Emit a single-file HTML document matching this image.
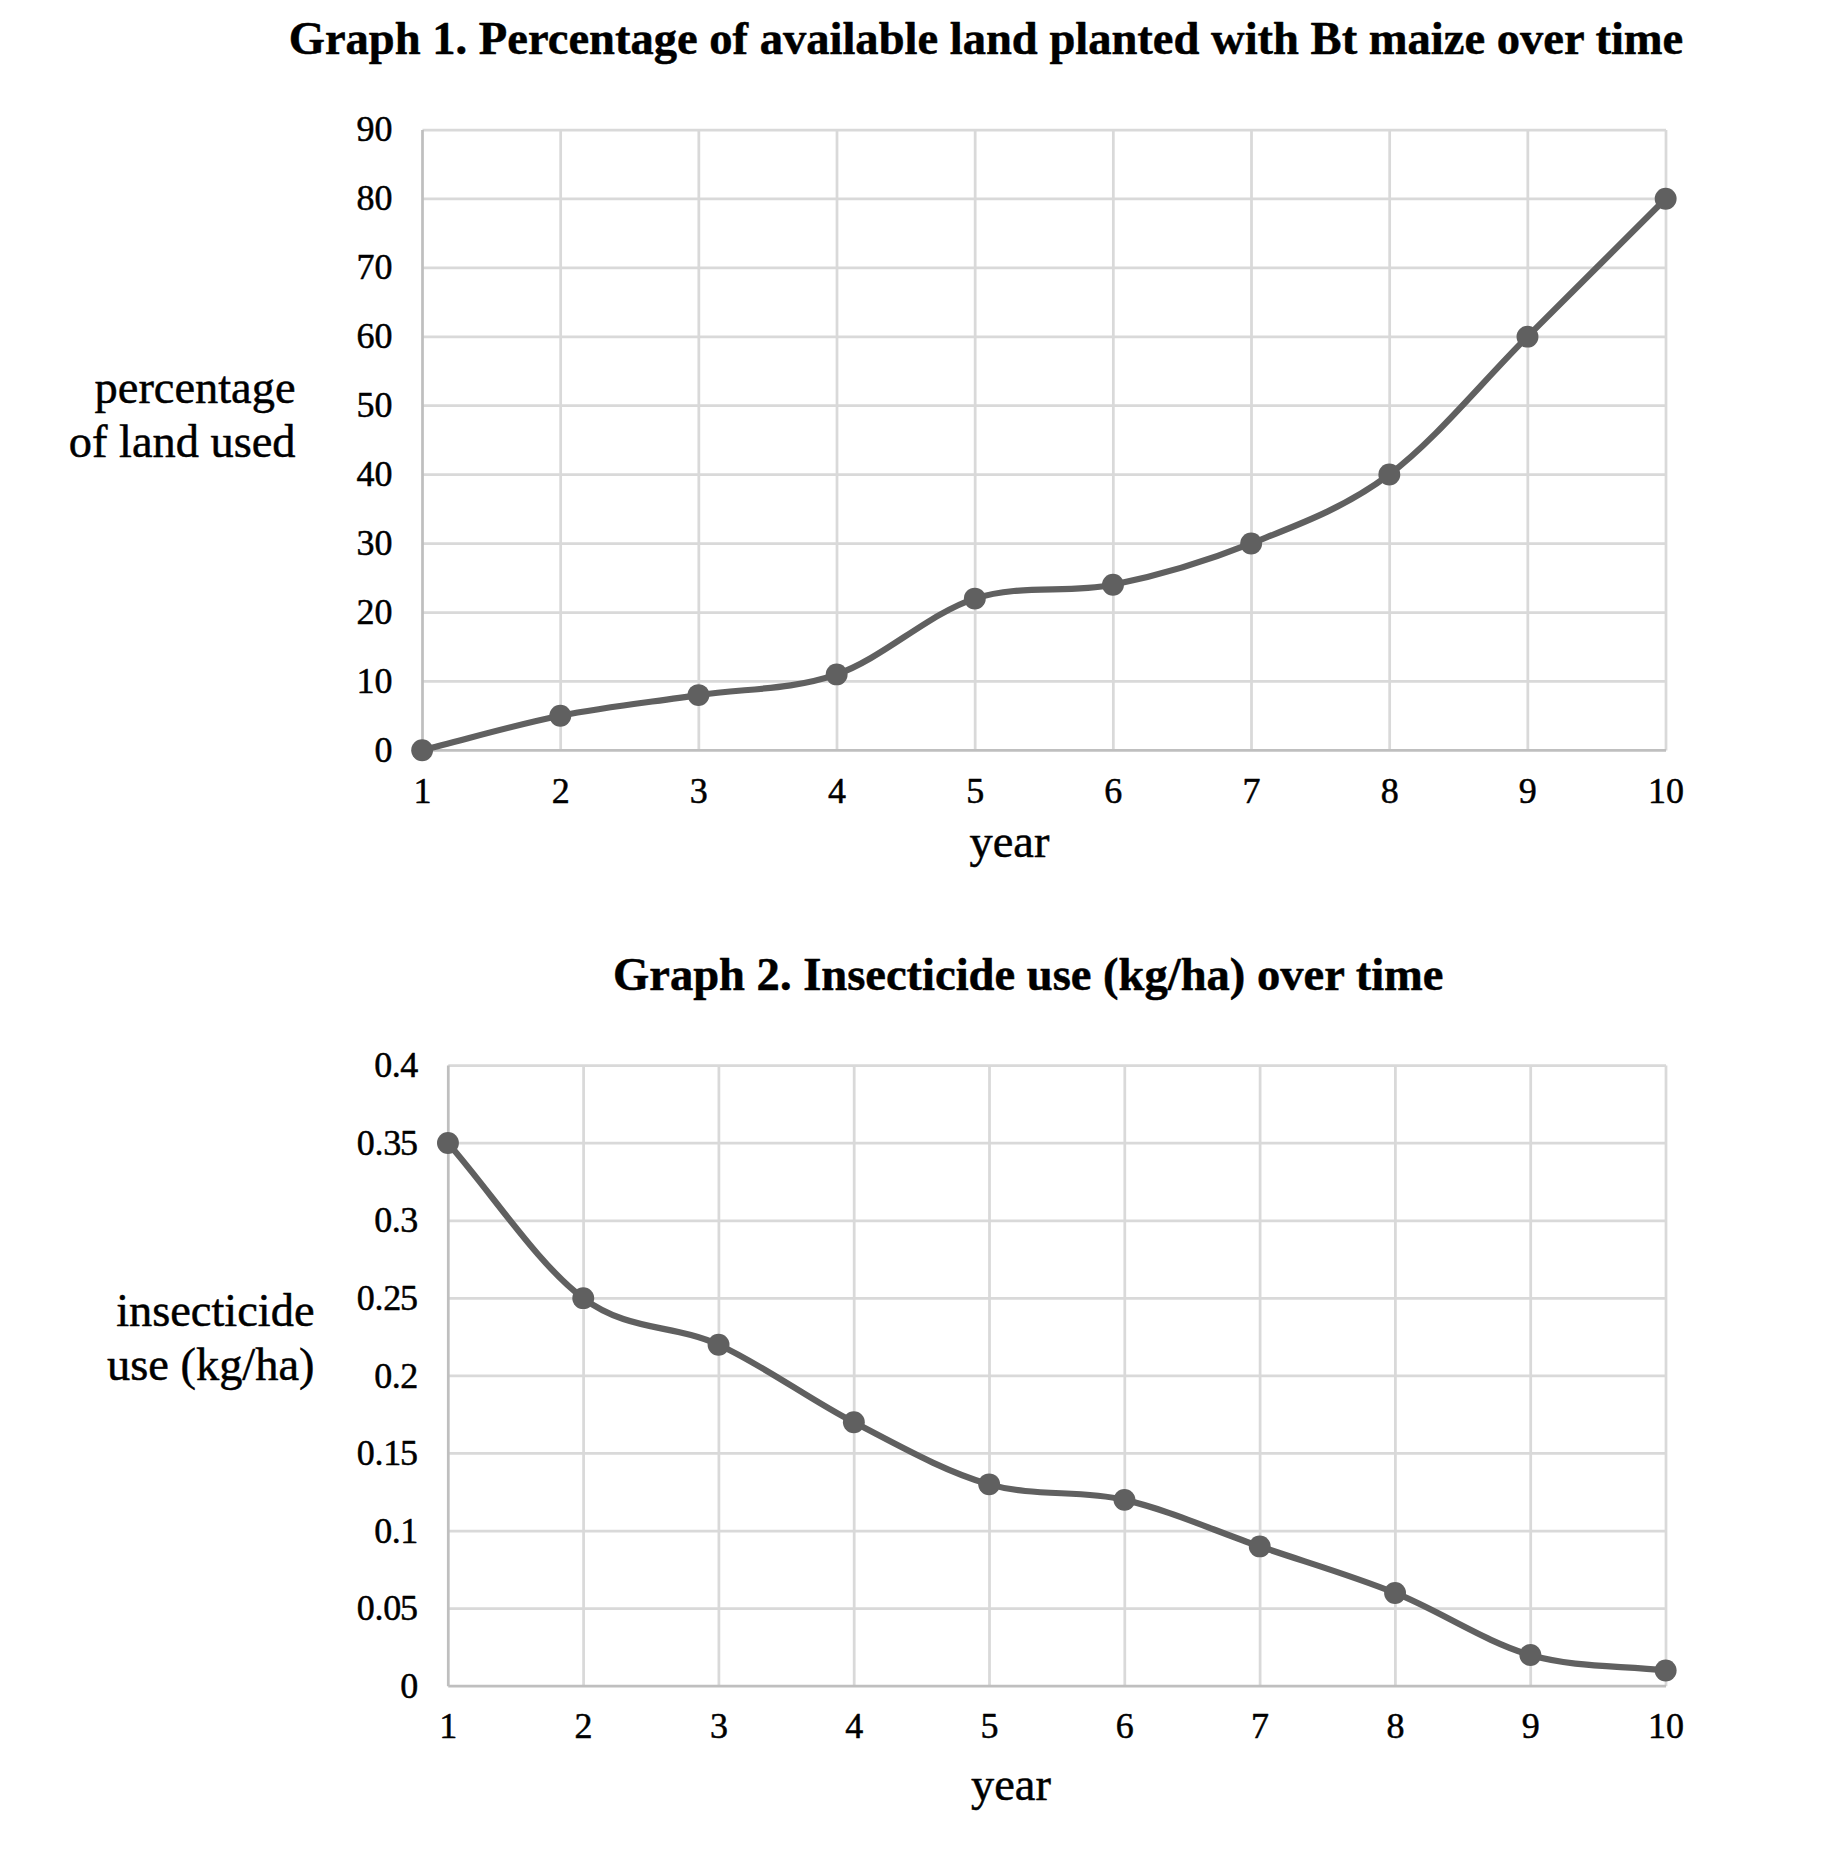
<!DOCTYPE html>
<html lang="en"><head><meta charset="utf-8"><title>Graphs</title>
<style>
html,body{margin:0;padding:0;background:#fff;}
body{width:1848px;height:1856px;overflow:hidden;}
svg{display:block;font-family:"Liberation Serif","Times New Roman",serif;fill:#000;}
text{stroke:#000;stroke-width:0.5px;stroke-linejoin:round;}
.tick{font-size:36px;stroke-width:0.35px;}
.title{font-size:46.55px;font-weight:bold;}
.axl{font-size:46.4px;}
</style></head><body>
<svg width="1848" height="1856" viewBox="0 0 1848 1856">
<rect width="1848" height="1856" fill="#ffffff"/>
<g id="chart1">
<line x1="422.5" y1="130" x2="1666" y2="130" stroke="#d9d9d9" stroke-width="2.75"/>
<line x1="422.5" y1="198.93" x2="1666" y2="198.93" stroke="#d9d9d9" stroke-width="2.75"/>
<line x1="422.5" y1="267.87" x2="1666" y2="267.87" stroke="#d9d9d9" stroke-width="2.75"/>
<line x1="422.5" y1="336.8" x2="1666" y2="336.8" stroke="#d9d9d9" stroke-width="2.75"/>
<line x1="422.5" y1="405.73" x2="1666" y2="405.73" stroke="#d9d9d9" stroke-width="2.75"/>
<line x1="422.5" y1="474.67" x2="1666" y2="474.67" stroke="#d9d9d9" stroke-width="2.75"/>
<line x1="422.5" y1="543.6" x2="1666" y2="543.6" stroke="#d9d9d9" stroke-width="2.75"/>
<line x1="422.5" y1="612.53" x2="1666" y2="612.53" stroke="#d9d9d9" stroke-width="2.75"/>
<line x1="422.5" y1="681.47" x2="1666" y2="681.47" stroke="#d9d9d9" stroke-width="2.75"/>
<line x1="560.67" y1="130" x2="560.67" y2="750.4" stroke="#d9d9d9" stroke-width="2.75"/>
<line x1="698.83" y1="130" x2="698.83" y2="750.4" stroke="#d9d9d9" stroke-width="2.75"/>
<line x1="837" y1="130" x2="837" y2="750.4" stroke="#d9d9d9" stroke-width="2.75"/>
<line x1="975.17" y1="130" x2="975.17" y2="750.4" stroke="#d9d9d9" stroke-width="2.75"/>
<line x1="1113.33" y1="130" x2="1113.33" y2="750.4" stroke="#d9d9d9" stroke-width="2.75"/>
<line x1="1251.5" y1="130" x2="1251.5" y2="750.4" stroke="#d9d9d9" stroke-width="2.75"/>
<line x1="1389.67" y1="130" x2="1389.67" y2="750.4" stroke="#d9d9d9" stroke-width="2.75"/>
<line x1="1527.83" y1="130" x2="1527.83" y2="750.4" stroke="#d9d9d9" stroke-width="2.75"/>
<line x1="1666" y1="130" x2="1666" y2="750.4" stroke="#d9d9d9" stroke-width="2.75"/>
<line x1="422.5" y1="130" x2="422.5" y2="750.4" stroke="#bfbfbf" stroke-width="2.75"/>
<line x1="422.5" y1="750.4" x2="1666" y2="750.4" stroke="#bfbfbf" stroke-width="2.75"/>
<path d="M422.15,750.25 C468.21,738.76 514.26,724.97 560.32,715.78 C606.37,706.59 652.43,702 698.48,695.1 C744.54,688.21 790.59,690.51 836.65,674.42 C882.71,658.34 928.76,613.53 974.82,598.6 C1020.87,583.66 1066.93,594 1112.98,584.81 C1159.04,575.62 1205.09,561.83 1251.15,543.45 C1297.21,525.07 1343.26,508.98 1389.32,474.52 C1435.37,440.05 1481.43,382.61 1527.48,336.65 C1573.54,290.69 1619.59,244.74 1665.65,198.78" fill="none" stroke="#606060" stroke-width="6.2" stroke-linecap="round" stroke-linejoin="round"/>
<circle cx="422.15" cy="750.25" r="10.95" fill="#606060"/>
<circle cx="560.32" cy="715.78" r="10.95" fill="#606060"/>
<circle cx="698.48" cy="695.1" r="10.95" fill="#606060"/>
<circle cx="836.65" cy="674.42" r="10.95" fill="#606060"/>
<circle cx="974.82" cy="598.6" r="10.95" fill="#606060"/>
<circle cx="1112.98" cy="584.81" r="10.95" fill="#606060"/>
<circle cx="1251.15" cy="543.45" r="10.95" fill="#606060"/>
<circle cx="1389.32" cy="474.52" r="10.95" fill="#606060"/>
<circle cx="1527.48" cy="336.65" r="10.95" fill="#606060"/>
<circle cx="1665.65" cy="198.78" r="10.95" fill="#606060"/>
<g class="tick" text-anchor="end">
<text x="392.6" y="141.2">90</text>
<text x="392.6" y="210.13">80</text>
<text x="392.6" y="279.07">70</text>
<text x="392.6" y="348">60</text>
<text x="392.6" y="416.93">50</text>
<text x="392.6" y="485.87">40</text>
<text x="392.6" y="554.8">30</text>
<text x="392.6" y="623.73">20</text>
<text x="392.6" y="692.67">10</text>
<text x="392.6" y="761.6">0</text>
</g>
<g class="tick" text-anchor="middle">
<text x="422.5" y="802.6">1</text>
<text x="560.67" y="802.6">2</text>
<text x="698.83" y="802.6">3</text>
<text x="837" y="802.6">4</text>
<text x="975.17" y="802.6">5</text>
<text x="1113.33" y="802.6">6</text>
<text x="1251.5" y="802.6">7</text>
<text x="1389.67" y="802.6">8</text>
<text x="1527.83" y="802.6">9</text>
<text x="1666" y="802.6">10</text>
</g>
<text class="title" text-anchor="middle" x="986" y="54.1">Graph 1. Percentage of available land planted with Bt maize over time</text>
<g class="axl" text-anchor="end">
<text x="295.5" y="403">percentage</text>
<text x="295.5" y="456.5">of land used</text>
</g>
<text class="axl" text-anchor="middle" x="1009.5" y="857.4">year</text>
</g>
<g id="chart2">
<line x1="448.3" y1="1065.6" x2="1666" y2="1065.6" stroke="#d9d9d9" stroke-width="2.75"/>
<line x1="448.3" y1="1143.17" x2="1666" y2="1143.17" stroke="#d9d9d9" stroke-width="2.75"/>
<line x1="448.3" y1="1220.75" x2="1666" y2="1220.75" stroke="#d9d9d9" stroke-width="2.75"/>
<line x1="448.3" y1="1298.33" x2="1666" y2="1298.33" stroke="#d9d9d9" stroke-width="2.75"/>
<line x1="448.3" y1="1375.9" x2="1666" y2="1375.9" stroke="#d9d9d9" stroke-width="2.75"/>
<line x1="448.3" y1="1453.47" x2="1666" y2="1453.47" stroke="#d9d9d9" stroke-width="2.75"/>
<line x1="448.3" y1="1531.05" x2="1666" y2="1531.05" stroke="#d9d9d9" stroke-width="2.75"/>
<line x1="448.3" y1="1608.62" x2="1666" y2="1608.62" stroke="#d9d9d9" stroke-width="2.75"/>
<line x1="583.6" y1="1065.6" x2="583.6" y2="1686.2" stroke="#d9d9d9" stroke-width="2.75"/>
<line x1="718.9" y1="1065.6" x2="718.9" y2="1686.2" stroke="#d9d9d9" stroke-width="2.75"/>
<line x1="854.2" y1="1065.6" x2="854.2" y2="1686.2" stroke="#d9d9d9" stroke-width="2.75"/>
<line x1="989.5" y1="1065.6" x2="989.5" y2="1686.2" stroke="#d9d9d9" stroke-width="2.75"/>
<line x1="1124.8" y1="1065.6" x2="1124.8" y2="1686.2" stroke="#d9d9d9" stroke-width="2.75"/>
<line x1="1260.1" y1="1065.6" x2="1260.1" y2="1686.2" stroke="#d9d9d9" stroke-width="2.75"/>
<line x1="1395.4" y1="1065.6" x2="1395.4" y2="1686.2" stroke="#d9d9d9" stroke-width="2.75"/>
<line x1="1530.7" y1="1065.6" x2="1530.7" y2="1686.2" stroke="#d9d9d9" stroke-width="2.75"/>
<line x1="1666" y1="1065.6" x2="1666" y2="1686.2" stroke="#d9d9d9" stroke-width="2.75"/>
<line x1="448.3" y1="1065.6" x2="448.3" y2="1686.2" stroke="#bfbfbf" stroke-width="2.75"/>
<line x1="448.3" y1="1686.2" x2="1666" y2="1686.2" stroke="#bfbfbf" stroke-width="2.75"/>
<path d="M447.95,1143.02 C493.05,1194.74 538.15,1264.56 583.25,1298.17 C628.35,1331.79 673.45,1324.03 718.55,1344.72 C763.65,1365.41 808.75,1399.02 853.85,1422.29 C898.95,1445.57 944.05,1471.43 989.15,1484.36 C1034.25,1497.28 1079.35,1489.53 1124.45,1499.87 C1169.55,1510.21 1214.65,1530.9 1259.75,1546.41 C1304.85,1561.93 1349.95,1574.86 1395.05,1592.96 C1440.15,1611.06 1485.25,1642.09 1530.35,1655.02 C1575.45,1667.95 1620.55,1665.36 1665.65,1670.53" fill="none" stroke="#606060" stroke-width="6.2" stroke-linecap="round" stroke-linejoin="round"/>
<circle cx="447.95" cy="1143.02" r="10.95" fill="#606060"/>
<circle cx="583.25" cy="1298.17" r="10.95" fill="#606060"/>
<circle cx="718.55" cy="1344.72" r="10.95" fill="#606060"/>
<circle cx="853.85" cy="1422.29" r="10.95" fill="#606060"/>
<circle cx="989.15" cy="1484.36" r="10.95" fill="#606060"/>
<circle cx="1124.45" cy="1499.87" r="10.95" fill="#606060"/>
<circle cx="1259.75" cy="1546.41" r="10.95" fill="#606060"/>
<circle cx="1395.05" cy="1592.96" r="10.95" fill="#606060"/>
<circle cx="1530.35" cy="1655.02" r="10.95" fill="#606060"/>
<circle cx="1665.65" cy="1670.53" r="10.95" fill="#606060"/>
<g class="tick" text-anchor="end">
<text text-anchor="start" x="374.3 391.7 400.3" y="1077.2">0.4</text>
<text text-anchor="start" x="356.7 374.5 383.3 400.1" y="1154.77">0.35</text>
<text text-anchor="start" x="374.3 391.7 400.3" y="1232.35">0.3</text>
<text text-anchor="start" x="356.7 374.5 383.3 400.1" y="1309.92">0.25</text>
<text text-anchor="start" x="374.3 391.7 400.3" y="1387.5">0.2</text>
<text text-anchor="start" x="356.7 374.5 383.3 400.1" y="1465.07">0.15</text>
<text text-anchor="start" x="374.3 391.7 400.3" y="1542.65">0.1</text>
<text text-anchor="start" x="356.7 374.5 383.3 400.1" y="1620.22">0.05</text>
<text x="418.3" y="1697.8">0</text>
</g>
<g class="tick" text-anchor="middle">
<text x="448.3" y="1738">1</text>
<text x="583.6" y="1738">2</text>
<text x="718.9" y="1738">3</text>
<text x="854.2" y="1738">4</text>
<text x="989.5" y="1738">5</text>
<text x="1124.8" y="1738">6</text>
<text x="1260.1" y="1738">7</text>
<text x="1395.4" y="1738">8</text>
<text x="1530.7" y="1738">9</text>
<text x="1666" y="1738">10</text>
</g>
<text class="title" text-anchor="middle" x="1028.3" y="990">Graph 2. Insecticide use (kg/ha) over time</text>
<g class="axl" text-anchor="end">
<text x="314.5" y="1325.8">insecticide</text>
<text x="314.5" y="1380.3">use (kg/ha)</text>
</g>
<text class="axl" text-anchor="middle" x="1011" y="1800.4">year</text>
</g>
</svg>
</body></html>
